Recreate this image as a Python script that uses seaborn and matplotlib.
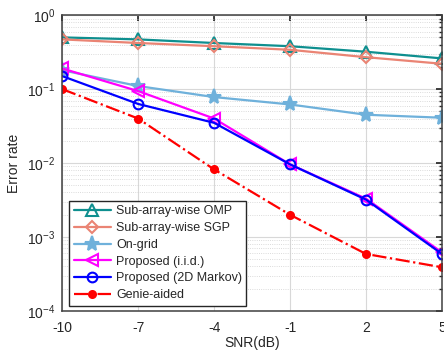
import numpy as np
import pandas as pd
import matplotlib
matplotlib.use("Agg")
import matplotlib.pyplot as plt
import seaborn as sns
from matplotlib.ticker import LogLocator, NullFormatter

snr = [-10, -7, -4, -1, 2, 5]
omp = [0.50, 0.47, 0.42, 0.38, 0.32, 0.26]
sgp = [0.47, 0.42, 0.38, 0.34, 0.27, 0.22]
ongrid = [0.18, 0.11, 0.078, 0.062, 0.045, 0.041]
prop_iid = [0.19, 0.094, 0.040, 0.0096, 0.0033, 0.00062]
prop_markov = [0.15, 0.063, 0.035, 0.0096, 0.0032, 0.00059]
genie = [0.10, 0.040, 0.0082, 0.0020, 0.00059, 0.00039]

labels = ["Sub-array-wise OMP", "Sub-array-wise SGP", "On-grid",
          "Proposed (i.i.d.)", "Proposed (2D Markov)", "Genie-aided"]
series = [omp, sgp, ongrid, prop_iid, prop_markov, genie]

sns.set_theme(style="white")
plt.rcParams['font.family'] = ['Liberation Sans', 'DejaVu Sans']
plt.rcParams['mathtext.fontset'] = 'custom'
plt.rcParams['mathtext.rm'] = 'Liberation Sans'
plt.rcParams['mathtext.it'] = 'Liberation Sans:italic'
plt.rcParams['mathtext.bf'] = 'Liberation Sans:bold'

fig = plt.figure(figsize=(4.44, 3.52), dpi=100)
ax = fig.add_axes([0.14, 0.1165, 0.8555, 0.8405])

styles = [
    dict(color="#0E8F8F", marker="^", mfc="none", ls="-", ms=8),
    dict(color="#EA8474", marker="D", mfc="none", ls="-", ms=6),
    dict(color="#6FB1DB", marker="*", mfc="#6FB1DB", ls="-", ms=11),
    dict(color="#FF00FF", marker="<", mfc="none", ls="-", ms=8),
    dict(color="#0000FF", marker="o", mfc="none", ls="-", ms=7),
    dict(color="#FF0000", marker="o", mfc="#FF0000", ls="-.", ms=5),
]

for lab, vals, st in zip(labels, series, styles):
    df = pd.DataFrame({"SNR": snr, "err": vals})
    sns.lineplot(data=df, x="SNR", y="err", ax=ax, label=lab,
                 color=st["color"], marker=st["marker"], markersize=st["ms"],
                 markerfacecolor=st["mfc"], markeredgecolor=st["color"],
                 markeredgewidth=1.5, linestyle=st["ls"], linewidth=1.6)

ax.set_yscale("log")
ax.set_ylim(1e-4, 1)
ax.set_xlim(-10, 5)
ax.set_xticks(snr)
ax.set_xticklabels([str(s) for s in snr])
ax.yaxis.set_major_locator(LogLocator(base=10, numticks=10))
ax.yaxis.set_minor_locator(LogLocator(base=10, subs=np.arange(2, 10), numticks=50))
ax.yaxis.set_minor_formatter(NullFormatter())

ax.grid(True, which="major", color="#D8D8D8", linewidth=0.8, linestyle="-")
ax.grid(True, which="minor", axis="y", color="#CFCFCF", linewidth=0.6, linestyle=":")
ax.tick_params(which="both", direction="in", top=True, right=True, colors="#262626",
               labelsize=10)
ax.tick_params(axis="x", which="major", pad=7)
ax.tick_params(axis="y", which="major", pad=5)
ax.tick_params(which="major", length=4)
ax.tick_params(which="minor", length=2)
for sp in ax.spines.values():
    sp.set_color("#404040")
    sp.set_linewidth(1.1)

ax.set_xlabel("SNR(dB)", fontsize=10, labelpad=1)
ax.set_ylabel("Error rate", fontsize=10, labelpad=4)

leg = ax.legend(loc="lower left", bbox_to_anchor=(0.012, 0.01), fontsize=9,
                frameon=True, fancybox=False, edgecolor="#262626",
                handlelength=3.0, borderpad=0.35, labelspacing=0.38,
                handletextpad=0.4, borderaxespad=0.2)
leg.get_frame().set_linewidth(1.0)
leg.get_frame().set_alpha(1)

fig.savefig("out.png", dpi=100)
